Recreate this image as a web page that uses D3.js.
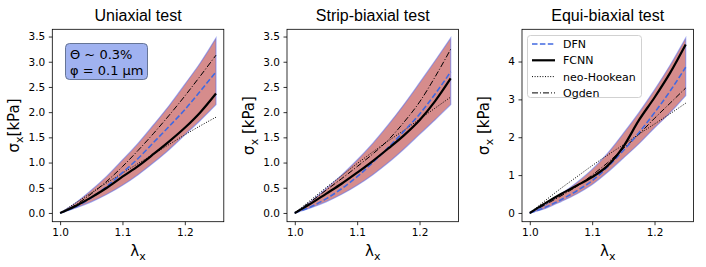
<!DOCTYPE html>
<html>
<head>
<meta charset="utf-8">
<script src="https://cdn.jsdelivr.net/npm/d3@7"></script>
<style>
  body { margin: 0; background: #fff; }
  text { font-family: "DejaVu Sans", sans-serif; fill: #000; }
  .title { font-family: "Liberation Sans", Arial, sans-serif; font-size: 16px; }
  .axis text { font-size: 10.5px; }
  .axis path, .axis line { stroke: #000; stroke-width: 0.8; }
</style>
</head>
<body>
<div id="root"></div>
<script>
const lambda = [1.0, 1.025, 1.05, 1.075, 1.1, 1.125, 1.15, 1.175, 1.2, 1.225, 1.25];

// uniaxial
const uniUpper = [0, 0.2, 0.45, 0.73, 1.05, 1.38, 1.75, 2.13, 2.55, 2.98, 3.47];
const uniLower = [0, 0.1, 0.22, 0.37, 0.55, 0.76, 1.0, 1.26, 1.55, 1.84, 2.15];
const uniDFN = [0, 0.12, 0.3, 0.53, 0.8, 1.08, 1.4, 1.72, 2.05, 2.42, 2.8];
const uniFCNN = [0, 0.14, 0.31, 0.5, 0.72, 0.93, 1.17, 1.42, 1.69, 2.0, 2.37];
const uniNeo = [0, 0.2, 0.4, 0.6, 0.79, 0.98, 1.17, 1.36, 1.55, 1.73, 1.9];
const uniOgden = [0, 0.16, 0.38, 0.63, 0.92, 1.24, 1.58, 1.94, 2.32, 2.72, 3.13];

// strip-biaxial
const stripUpper = [0, 0.22, 0.48, 0.75, 1.05, 1.38, 1.75, 2.15, 2.58, 3.02, 3.47];
const stripLower = [0, 0.1, 0.22, 0.37, 0.55, 0.76, 1.0, 1.27, 1.56, 1.85, 2.15];
const stripDFN = [0, 0.12, 0.28, 0.48, 0.72, 1.0, 1.3, 1.62, 1.96, 2.36, 2.8];
const stripFCNN = [0, 0.18, 0.38, 0.58, 0.8, 1.03, 1.28, 1.54, 1.84, 2.22, 2.67];
const stripNeo = [0, 0.25, 0.5, 0.74, 0.98, 1.21, 1.43, 1.64, 1.86, 2.08, 2.3];
const stripOgden = [0, 0.22, 0.45, 0.68, 0.92, 1.17, 1.45, 1.8, 2.2, 2.7, 3.25];

// equi-biaxial
const equiUpper = [0, 0.22, 0.5, 0.8, 1.15, 1.58, 2.1, 2.65, 3.25, 3.9, 4.62];
const equiLower = [0, 0.12, 0.3, 0.5, 0.75, 1.08, 1.45, 1.83, 2.25, 2.65, 3.1];
const equiDFN = [0, 0.15, 0.35, 0.58, 0.85, 1.22, 1.65, 2.12, 2.65, 3.22, 3.85];
const equiFCNN = [0, 0.26, 0.5, 0.72, 0.95, 1.25, 1.75, 2.45, 3.05, 3.7, 4.45];
const equiNeo = [0, 0.33, 0.65, 0.95, 1.25, 1.53, 1.8, 2.08, 2.35, 2.62, 2.9];
const equiOgden = [0, 0.22, 0.45, 0.7, 1.0, 1.33, 1.7, 2.08, 2.5, 2.9, 3.3];

const titles = ['Uniaxial test', 'Strip-biaxial test', 'Equi-biaxial test'];
const yLabelTail = ['[kPa]', ' [kPa]', ' [kPa]'];
const xTicks = [1.0, 1.1, 1.2];
const yTicksA = [0, 0.5, 1.0, 1.5, 2.0, 2.5, 3.0, 3.5];
const yTicksB = [0, 1, 2, 3, 4];
const legendNames = ['DFN', 'FCNN', 'neo-Hookean', 'Ogden'];

const panels = [
  {upper: uniUpper, lower: uniLower, dfn: uniDFN, fcnn: uniFCNN, neo: uniNeo, ogden: uniOgden, ticks: yTicksA, fmt: d3.format('.1f')},
  {upper: stripUpper, lower: stripLower, dfn: stripDFN, fcnn: stripFCNN, neo: stripNeo, ogden: stripOgden, ticks: yTicksA, fmt: d3.format('.1f')},
  {upper: equiUpper, lower: equiLower, dfn: equiDFN, fcnn: equiFCNN, neo: equiNeo, ogden: equiOgden, ticks: yTicksB, fmt: d3.format('d')}
];

const styles = {
  dfn: {stroke: '#4169e1', width: 1.6, dash: '5.5,2.4'},
  fcnn: {stroke: '#000', width: 2.2, dash: null},
  neo: {stroke: '#000', width: 1, dash: '1,1.6'},
  ogden: {stroke: '#000', width: 1, dash: '6,2,1,2'}
};

const W = 706, H = 267;
const frameLeft = [52.3, 287, 522];
const frameW = 171.5;
const plotTop = 29.3, plotBottom = 221.7;

const svg = d3.select('#root').append('svg')
  .attr('width', W).attr('height', H);

panels.forEach((p, i) => {
  const x0 = frameLeft[i];
  const ymax = d3.max(p.upper);
  const pad = ymax * 0.05;

  const x = d3.scaleLinear().domain([0.9875, 1.2625]).range([x0, x0 + frameW]);
  const y = d3.scaleLinear().domain([-pad, ymax + pad]).range([plotBottom, plotTop]);

  const g = svg.append('g');

  const area = d3.area()
    .curve(d3.curveMonotoneX)
    .x((d, k) => x(lambda[k]))
    .y0((d, k) => y(p.lower[k]))
    .y1((d) => y(d));

  g.append('path')
    .datum(p.upper)
    .attr('d', area)
    .attr('fill', 'rgb(214,140,140)')
    .attr('stroke', 'rgba(90,110,235,0.55)')
    .attr('stroke-width', 1.2);

  const line = d3.line()
    .curve(d3.curveMonotoneX)
    .x((d, k) => x(lambda[k]))
    .y((d) => y(d));

  ['neo', 'ogden', 'dfn', 'fcnn'].forEach((key) => {
    const s = styles[key];
    g.append('path')
      .datum(p[key])
      .attr('d', line)
      .attr('fill', 'none')
      .attr('stroke', s.stroke)
      .attr('stroke-width', s.width)
      .attr('stroke-dasharray', s.dash);
  });

  // frame
  g.append('rect')
    .attr('x', x0).attr('y', plotTop)
    .attr('width', frameW).attr('height', plotBottom - plotTop)
    .attr('fill', 'none').attr('stroke', '#000').attr('stroke-width', 0.8);

  g.append('g')
    .attr('class', 'axis')
    .attr('transform', `translate(0, ${plotBottom})`)
    .call(d3.axisBottom(x).tickValues(xTicks).tickFormat(d3.format('.1f')).tickSize(3.5).tickPadding(3.5))
    .call((a) => a.select('.domain').remove())
    .selectAll('text').attr('font-family', 'DejaVu Sans').attr('font-size', 10.5);

  g.append('g')
    .attr('class', 'axis')
    .attr('transform', `translate(${x0}, 0)`)
    .call(d3.axisLeft(y).tickValues(p.ticks).tickFormat(p.fmt).tickSize(3.5).tickPadding(3.5))
    .call((a) => a.select('.domain').remove())
    .selectAll('text').attr('font-family', 'DejaVu Sans').attr('font-size', 10.5);

  svg.append('text')
    .attr('class', 'title')
    .attr('x', x0 + frameW / 2).attr('y', 21)
    .attr('text-anchor', 'middle')
    .text(titles[i]);

  const xl = svg.append('text')
    .attr('x', x0 + frameW / 2).attr('y', 256)
    .attr('text-anchor', 'middle')
    .attr('font-size', 15);
  xl.append('tspan').text('λ');
  xl.append('tspan').attr('dy', 4).attr('font-size', 11).text('x');

  const yl = svg.append('text')
    .attr('transform', `translate(${x0 - 33}, ${(plotTop + plotBottom) / 2}) rotate(-90)`)
    .attr('text-anchor', 'middle')
    .attr('font-size', 15);
  yl.append('tspan').text('σ');
  yl.append('tspan').attr('dy', 4).attr('font-size', 11).text('x');
  yl.append('tspan').attr('dy', -4).text(yLabelTail[i]);
});

// annotation box in first panel
const ann = svg.append('g');
ann.append('rect')
  .attr('x', 65.5).attr('y', 43.5).attr('width', 82).attr('height', 36)
  .attr('rx', 4)
  .attr('fill', 'rgb(160,178,240)')
  .attr('stroke', '#5a6a8a').attr('stroke-width', 0.9);
ann.append('text').attr('x', 70).attr('y', 59).attr('font-size', 13).text('Θ ~ 0.3%');
ann.append('text').attr('x', 70).attr('y', 75).attr('font-size', 13).text('φ = 0.1 μm');

// legend in third panel
const lg = svg.append('g');
lg.append('rect')
  .attr('x', 527.5).attr('y', 35.5).attr('width', 114).attr('height', 62)
  .attr('rx', 3)
  .attr('fill', 'rgba(255,255,255,0.85)')
  .attr('stroke', '#ccc').attr('stroke-width', 0.9);
['dfn', 'fcnn', 'neo', 'ogden'].forEach((key, k) => {
  const s = styles[key];
  const yy = 44 + k * 16.3;
  lg.append('line')
    .attr('x1', 532).attr('x2', 555)
    .attr('y1', yy).attr('y2', yy)
    .attr('stroke', s.stroke).attr('stroke-width', s.width)
    .attr('stroke-dasharray', s.dash);
  lg.append('text')
    .attr('x', 563).attr('y', yy + 4)
    .attr('font-size', 11)
    .text(legendNames[k]);
});
</script>
</body>
</html>
